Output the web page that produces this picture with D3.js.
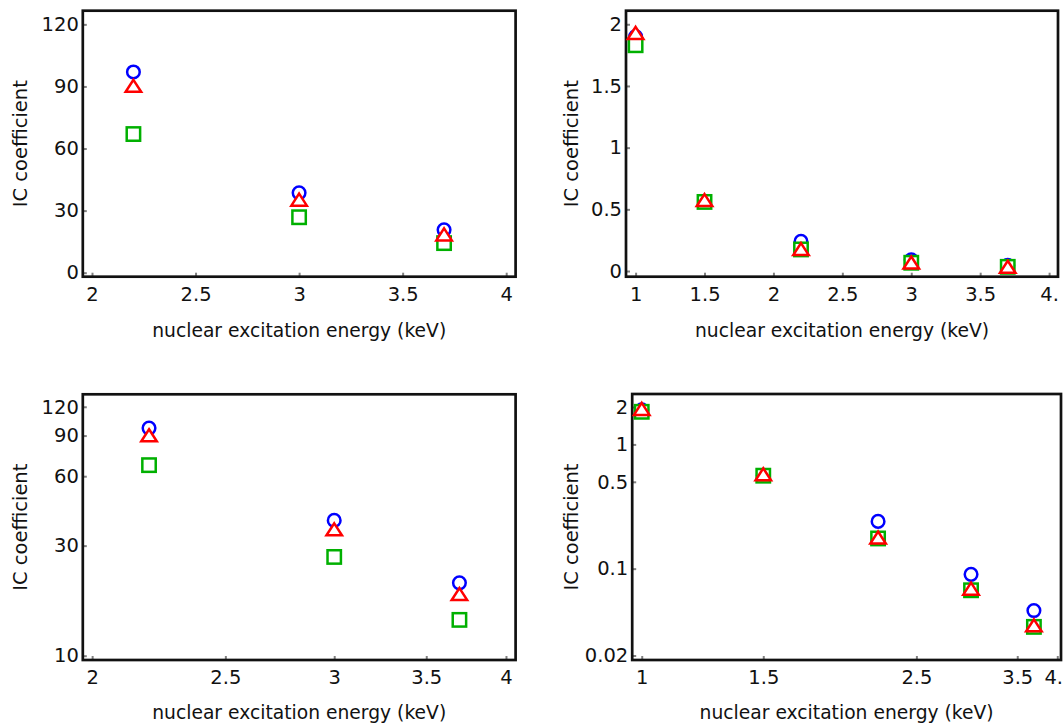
<!DOCTYPE html>
<html>
<head>
<meta charset="utf-8">
<script src="https://cdn.jsdelivr.net/npm/d3@7"></script>
<style>
  html, body { margin: 0; padding: 0; background: #fff; }
  svg { display: block; font-family: "DejaVu Sans", sans-serif; }
</style>
</head>
<body>
<svg id="chart" width="1064" height="725"></svg>
<script>
// ---------- data ----------
const energyLeft = [2.2, 3, 3.7];
const circleLeft = [97, 38.6, 20.7];
const triangleLeft = [90.3, 35.3, 18.5];
const squareLeft = [67, 26.8, 14.3];

const energyRight = [1, 1.5, 2.2, 3, 3.7];
const circleRight = [1.9, 0.565, 0.24, 0.09, 0.046];
const triangleRight = [1.93, 0.575, 0.178, 0.069, 0.035];
const squareRight = [1.83, 0.56, 0.175, 0.067, 0.034];

const xTicksLeft = [2, 2.5, 3, 3.5, 4];
const xTickLabelsLeft = ["2", "2.5", "3", "3.5", "4"];
const xTicksRightLin = [1, 1.5, 2, 2.5, 3, 3.5, 4];
const xTickLabelsRightLin = ["1", "1.5", "2", "2.5", "3", "3.5", "4."];
const xTicksRightLog = [1, 1.5, 2.5, 3.5, 4];
const xTickLabelsRightLog = ["1", "1.5", "2.5", "3.5", "4."];
const yTicksLeft = [0, 30, 60, 90, 120];
const yTicksLeftLog = [10, 30, 60, 90, 120];
const yTicksRightLin = [0, 0.5, 1, 1.5, 2];
const yTickLabelsRightLin = ["0", "0.5", "1", "1.5", "2"];
const yTicksRightLog = [0.02, 0.1, 0.5, 1, 2];
const yTickLabelsRightLog = ["0.02", "0.1", "0.5", "1", "2"];

const xTitle = "nuclear excitation energy (keV)";
const yTitle = "IC coefficient";

// ---------- layout ----------
const W = 1064, H = 725;
const svg = d3.select("#chart");
const colors = { circle: "#0000ff", triangle: "#ff0000", square: "#00b000" };

const panels = [
  { x0: 82.8, x1: 515.6, y0: 10.7, y1: 276.7, xType: "lin", yType: "lin",
    xDom: [1.9556, 4.0454], yDom: [-1.93, 126.6],
    xTicks: xTicksLeft, xLabels: xTickLabelsLeft, yTicks: yTicksLeft, yLabels: yTicksLeft.map(String),
    xs: energyLeft, series: { circle: circleLeft, square: squareLeft, triangle: triangleLeft }, yLabX: 27 },
  { x0: 626, x1: 1058, y0: 10.7, y1: 276.7, xType: "lin", yType: "lin",
    xDom: [0.9303, 4.0646], yDom: [-0.046, 2.11],
    xTicks: xTicksRightLin, xLabels: xTickLabelsRightLin, yTicks: yTicksRightLin, yLabels: yTickLabelsRightLin,
    xs: energyRight, series: { circle: circleRight, square: squareRight, triangle: triangleRight }, yLabX: 577.5 },
  { x0: 82.8, x1: 515.6, y0: 394.3, y1: 660, xType: "log", yType: "log",
    xDom: [1.969, 4.065], yDom: [9.58, 135.9],
    xTicks: xTicksLeft, xLabels: xTickLabelsLeft, yTicks: yTicksLeftLog, yLabels: yTicksLeftLog.map(String),
    xs: energyLeft, series: { circle: circleLeft, square: squareLeft, triangle: triangleLeft }, yLabX: 27 },
  { x0: 632.2, x1: 1061, y0: 394, y1: 660, xType: "log", yType: "log",
    xDom: [0.9687, 4.05], yDom: [0.0184, 2.545],
    xTicks: xTicksRightLog, xLabels: xTickLabelsRightLog, yTicks: yTicksRightLog, yLabels: yTickLabelsRightLog,
    xs: energyRight, series: { circle: circleRight, square: squareRight, triangle: triangleRight }, yLabX: 577.5 }
];

function trianglePath(w, h) {
  return `M0,${-h/2}L${w/2},${h/2}L${-w/2},${h/2}Z`;
}

panels.forEach(p => {
  const x = (p.xType === "log" ? d3.scaleLog() : d3.scaleLinear()).domain(p.xDom).range([p.x0, p.x1]);
  const y = (p.yType === "log" ? d3.scaleLog() : d3.scaleLinear()).domain(p.yDom).range([p.y1, p.y0]);
  const g = svg.append("g");

  // axes (ticks inward)
  const ax = g.append("g").attr("transform", `translate(0,${p.y1})`)
    .call(d3.axisBottom(x).tickValues(p.xTicks).tickFormat((d, i) => p.xLabels[i]).tickSize(-4).tickPadding(10));
  const ay = g.append("g").attr("transform", `translate(${p.x0},0)`)
    .call(d3.axisLeft(y).tickValues(p.yTicks).tickFormat((d, i) => p.yLabels[i]).tickSize(-4).tickPadding(4));
  [ax, ay].forEach(a => {
    a.select(".domain").remove();
    a.selectAll(".tick line").attr("stroke", "#808080").attr("stroke-width", 2);
    a.selectAll(".tick text").attr("fill", "#111").style("font-size", "19.5px").style("font-family", "DejaVu Sans");
  });
  // keep labels that would run past the right edge inside the picture
  ax.selectAll(".tick text").each(function () {
    const tr = this.parentNode.getAttribute("transform");
    const tx = +tr.match(/translate\(([-\d.]+)/)[1];
    const w = this.getComputedTextLength();
    const over = tx + w / 2 - (W - 1);
    if (over > 0) d3.select(this).attr("x", -over);
  });

  // frame
  g.append("rect").attr("x", p.x0).attr("y", p.y0)
    .attr("width", p.x1 - p.x0).attr("height", p.y1 - p.y0)
    .attr("fill", "none").attr("stroke", "#111").attr("stroke-width", 2.7);

  // markers: circles, squares, triangles
  const pts = name => p.xs.map((xv, i) => ({ x: xv, y: p.series[name][i] }));
  g.append("g").selectAll("circle").data(pts("circle")).join("circle")
    .attr("cx", d => x(d.x)).attr("cy", d => y(d.y)).attr("r", 6.3)
    .attr("fill", "#fff").attr("stroke", colors.circle).attr("stroke-width", 2.5);
  g.append("g").selectAll("rect").data(pts("square")).join("rect")
    .attr("x", d => x(d.x) - 6.7).attr("y", d => y(d.y) - 6.7).attr("width", 13.4).attr("height", 13.4)
    .attr("fill", "#fff").attr("stroke", colors.square).attr("stroke-width", 2.5);
  g.append("g").selectAll("path").data(pts("triangle")).join("path")
    .attr("d", trianglePath(15.5, 12))
    .attr("transform", d => `translate(${x(d.x)},${y(d.y)})`)
    .attr("fill", "#fff").attr("stroke", colors.triangle).attr("stroke-width", 2.5).attr("stroke-linejoin", "miter");

  // titles
  g.append("text").attr("x", (p.x0 + p.x1) / 2).attr("y", Math.min(p.y1 + 60, H - 6))
    .attr("text-anchor", "middle").style("font-size", "19.5px").attr("fill", "#111")
    .attr("textLength", 294).attr("lengthAdjust", "spacingAndGlyphs").text(xTitle);
  g.append("text").attr("transform", `translate(${p.yLabX},${(p.y0 + p.y1) / 2}) rotate(-90)`)
    .attr("text-anchor", "middle").style("font-size", "19.5px").attr("fill", "#111")
    .attr("textLength", 127).attr("lengthAdjust", "spacingAndGlyphs").text(yTitle);
});
</script>
</body>
</html>
